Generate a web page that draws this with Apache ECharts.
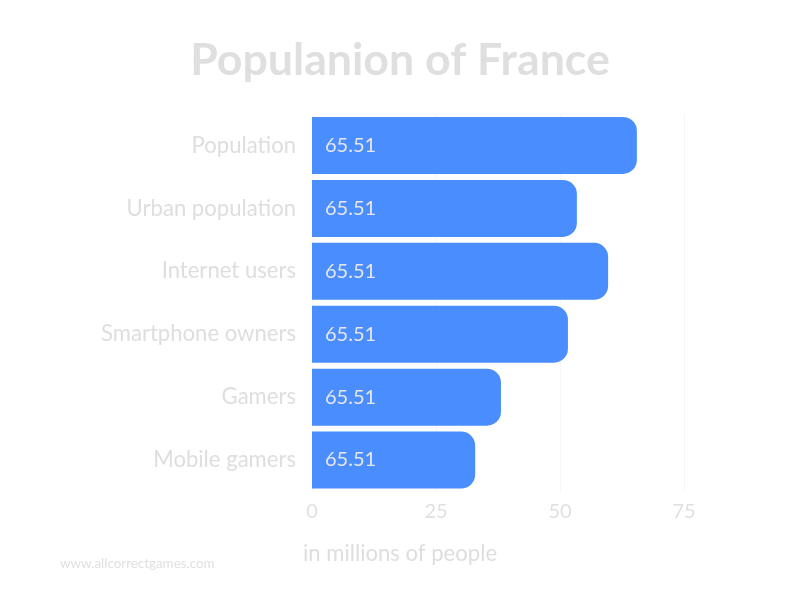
<!DOCTYPE html>
<html>
<head>
<meta charset="utf-8">
<style>html,body{margin:0;padding:0;background:#fff}#c{width:800px;height:600px}</style>
<script src="https://cdn.jsdelivr.net/npm/echarts@6/dist/echarts.min.js"></script>
</head>
<body>
<div id="c"></div>
<script>
const categories = ['Population','Urban population','Internet users','Smartphone owners','Gamers','Mobile gamers'];
const barValues = [65.5,53.4,59.7,51.6,38.1,32.9];
const barLabels = ['65.51','65.51','65.51','65.51','65.51','65.51'];
const xTicks = [0,25,50,75];
const chart = echarts.init(document.getElementById('c'), null, {renderer:'canvas'});
chart.setOption({
  animation:false,
  backgroundColor:'#ffffff',
  title:[
    {text:'Populanion of France',left:'center',top:33,textStyle:{fontFamily:'Lato',fontWeight:'bold',fontSize:44.7,color:'#dfdfdf'}},
    {text:'in millions of people',left:'center',top:538,textStyle:{fontFamily:'Lato',fontWeight:'normal',fontSize:22.1,color:'#dedede'}},
    {text:'www.allcorrectgames.com',left:60,top:557,padding:0,textStyle:{fontFamily:'Lato',fontWeight:'normal',fontSize:13.4,color:'#e0e0e0'}}
  ],
  grid:{left:312,top:114,width:372,height:377.5},
  xAxis:{type:'value',min:0,max:75,interval:25,
    axisLine:{show:false},axisTick:{show:false},
    splitLine:{show:true,lineStyle:{color:'#f6f6f6',width:1}},
    axisLabel:{margin:10,fontFamily:'Lato',fontSize:20,color:'#e0e0e0',
      customValues:xTicks}},
  yAxis:{type:'category',inverse:true,data:categories,
    axisLine:{show:false},axisTick:{show:false},splitLine:{show:false},
    axisLabel:{margin:16,fontFamily:'Lato',fontSize:22.1,color:'#dedede'}},
  series:[{type:'bar',data:barValues,barWidth:57,
    itemStyle:{color:'#4a8dff',borderRadius:[0,14,14,0]},
    label:{show:true,position:'insideLeft',distance:13,fontFamily:'Lato',fontSize:20,color:'#e6e6e6',
      formatter:p=>barLabels[p.dataIndex]}}]
});
</script>
</body>
</html>
